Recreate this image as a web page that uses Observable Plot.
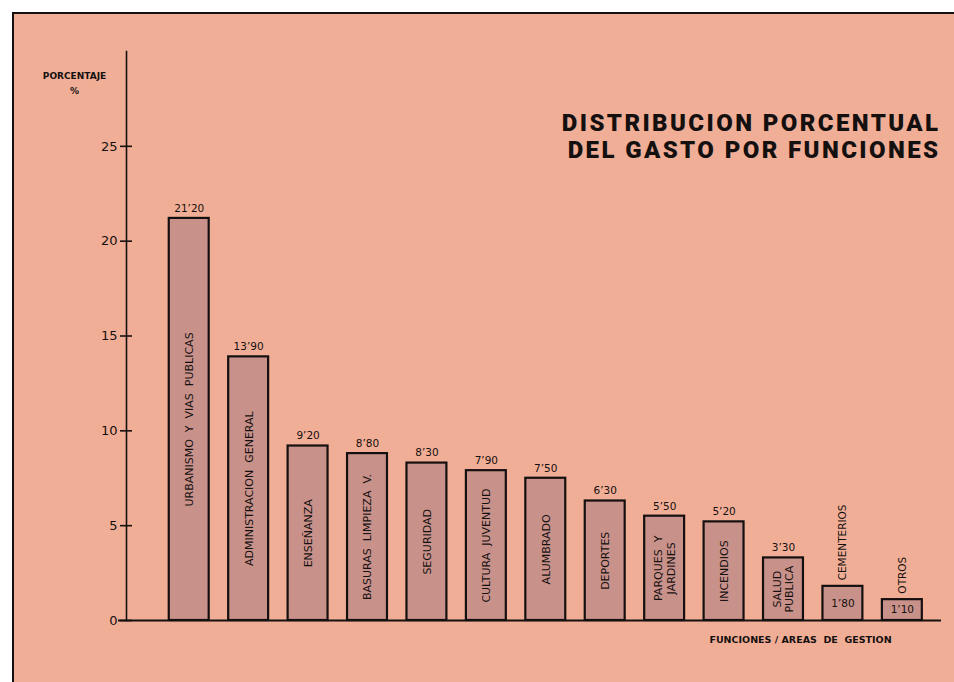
<!DOCTYPE html>
<html>
<head>
<meta charset="utf-8">
<script src="https://cdn.jsdelivr.net/npm/d3@7"></script>
<script src="https://cdn.jsdelivr.net/npm/@observablehq/plot@0.6"></script>
<style>
  html, body { margin: 0; padding: 0; background: #ffffff; width: 954px; height: 682px; overflow: hidden; }
  #bg { position: absolute; left: 12px; top: 12px; right: 0; bottom: 0; background: #f1ae96;
        border-left: 2.5px solid #151010; border-top: 2.5px solid #151010; }
  #chart { position: absolute; left: 0; top: 0; }
  .title-mark text { letter-spacing: 2.4px; }
</style>
</head>
<body>
<div id="bg"></div>
<div id="chart"></div>
<script>
const categories = [
  "URBANISMO  Y  VIAS  PUBLICAS", "ADMINISTRACION  GENERAL", "ENSEÑANZA", "BASURAS  LIMPIEZA  V.",
  "SEGURIDAD", "CULTURA  JUVENTUD", "ALUMBRADO", "DEPORTES", "PARQUES  Y\nJARDINES",
  "INCENDIOS", "SALUD\nPUBLICA", "CEMENTERIOS", "OTROS"
];
const values = [21.2, 13.9, 9.2, 8.8, 8.3, 7.9, 7.5, 6.3, 5.5, 5.2, 3.3, 1.8, 1.1];
const valueLabels = ["21’20", "13’90", "9’20", "8’80", "8’30", "7’90", "7’50", "6’30", "5’50", "5’20", "3’30", "1’80", "1’10"];
const yTicks = [0, 5, 10, 15, 20, 25];
const titleText = "DISTRIBUCION PORCENTUAL\nDEL GASTO POR FUNCIONES";
const yLabel = "PORCENTAJE\n%";
const xLabel = "FUNCIONES / AREAS  DE  GESTION";

const data = categories.map((c, i) => ({name: c, value: values[i], label: valueLabels[i]}));
const tall = data.filter(d => d.value > 3);
const small = data.filter(d => d.value <= 3);

const ink = "#151010";
const barFill = "#c8918a";
const letter = "DejaVu Sans, Liberation Sans, sans-serif";

const chart = Plot.plot({
  width: 954,
  height: 682,
  marginLeft: 124,
  marginRight: 13,
  marginTop: 51,
  marginBottom: 62,
  style: {background: "transparent", fontFamily: letter, color: ink, overflow: "visible"},
  x: {domain: categories, paddingInner: 0.328, paddingOuter: 0.538, align: 0.7, round: false, axis: null},
  y: {domain: [0, 30], axis: null},
  marks: [
    Plot.frame({anchor: "left", stroke: ink, strokeWidth: 1.6, dx: 2}),
    Plot.barY(data, {x: "name", y: "value", fill: barFill, stroke: ink, strokeWidth: 2.2}),
    Plot.ruleY([0], {stroke: ink, strokeWidth: 2, insetLeft: -6}),
    Plot.axisY({ticks: yTicks, tickSize: 12, dx: 8, tickPadding: 3, fontSize: 13, fontWeight: 500, stroke: ink, strokeWidth: 1.6,
                tickFormat: d => String(d), label: null, fill: ink}),
    // value labels above tall bars
    Plot.text(tall, {x: "name", y: "value", text: "label", dy: -10, fontSize: 10.5, fill: ink}),
    // category labels inside tall bars
    Plot.text(tall, {x: "name", y: d => d.value / 2, text: "name", rotate: -90, fontSize: 11, fontWeight: 500, lineHeight: 1.1, fill: ink}),
    // value labels inside small bars
    Plot.text(small, {x: "name", y: d => d.value / 2, text: "label", fontSize: 10.5, fill: ink}),
    // category labels above small bars
    Plot.text(small, {x: "name", y: "value", text: "name", rotate: -90, textAnchor: "start", dy: -6, fontSize: 10.5, fill: ink}),
    // title
    Plot.text([titleText], {frameAnchor: "top-right", text: d => d, textAnchor: "end", lineAnchor: "top",
      dx: -1, dy: 60, fontSize: 24, fontWeight: 900, lineHeight: 1.13, className: "title-mark",
      fontFamily: "Roboto, Liberation Sans, Arial, sans-serif", fill: ink}),
    // y label
    Plot.text([yLabel], {frameAnchor: "top-left", text: d => d, textAnchor: "middle", lineAnchor: "middle",
      dx: -50, dy: 30, fontSize: 9, fontWeight: "bold", lineHeight: 1.7, fill: ink}),
    // x label
    Plot.text([xLabel], {frameAnchor: "bottom-right", text: d => d, textAnchor: "middle", lineAnchor: "middle",
      dx: -141, dy: 19, fontSize: 9.5, fontWeight: "bold", fill: ink})
  ]
});
document.getElementById("chart").appendChild(chart);
</script>
</body>
</html>
